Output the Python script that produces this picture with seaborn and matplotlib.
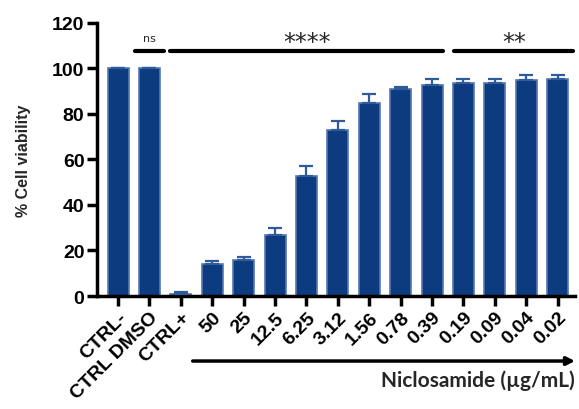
import matplotlib
matplotlib.use("Agg")
import matplotlib.pyplot as plt
import seaborn as sns
import pandas as pd

# values
labels = ["CTRL-", "CTRL DMSO", "CTRL+", "50", "25", "12.5", "6.25", "3.12",
          "1.56", "0.78", "0.39", "0.19", "0.09", "0.04", "0.02"]
viability = [100, 100, 1.0, 14.0, 15.8, 26.8, 52.8, 73.0, 84.8, 91.0, 92.8,
             93.5, 93.5, 95.0, 95.4]
err = [0, 0, 0.8, 1.5, 1.5, 3.2, 4.2, 4.0, 4.0, 1.0, 2.6, 1.9, 1.9, 2.3, 1.7]

df = pd.DataFrame({"label": labels, "viability": viability})

sns.set_style("ticks")
plt.rcParams["font.family"] = ["Liberation Sans", "DejaVu Sans"]

fig = plt.figure(figsize=(5.79, 4.10), dpi=100)
ax = fig.add_axes([0.1675, 0.2756, 0.8255, 0.666])

sns.barplot(data=df, x="label", y="viability", color="#0c3c7f",
            edgecolor="#5577b0", linewidth=1.2, width=0.67, saturation=1,
            errorbar=None, ax=ax)
pos = range(len(labels))
ax.errorbar(pos, viability, yerr=[[0] * len(err), err], fmt="none",
            ecolor="#2f5b9b", elinewidth=1.6, capsize=5, capthick=1.6, zorder=3)

ax.set_ylim(0, 120)
ax.set_xlim(-0.67, 14.55)
ax.set_yticks([0, 20, 40, 60, 80, 100, 120])
ax.set_xlabel("")
ax.set_ylabel("% Cell viability", fontsize=11.5, fontweight="bold", labelpad=15)
ax.tick_params(axis="both", width=2.5, length=7, labelsize=14, color="black",
               labelcolor="black", pad=2)
for t in ax.get_yticklabels():
    t.set_fontweight("bold")
ax.set_xticks(list(pos))
ax.set_xticklabels(labels, rotation=45, ha="right", rotation_mode="anchor",
                   fontsize=14, fontweight="bold")
sns.despine(ax=ax)
for s in ["left", "bottom"]:
    ax.spines[s].set_linewidth(2.5)
    ax.spines[s].set_color("black")

# significance brackets
sig = [(0.54, 1.46, "ns", 8, 111), (1.66, 10.35, "****", 17, 106.5),
       (10.7, 14.5, "**", 17, 106.5)]
for x0, x1, txt, fs, ty in sig:
    ax.plot([x0, x1], [107.7, 107.7], color="black", lw=3,
            solid_capstyle="round", clip_on=False)
    ax.text((x0 + x1) / 2, ty, txt, ha="center", va="bottom", fontsize=fs,
            family="DejaVu Sans")

# concentration arrow
fig.add_artist(matplotlib.patches.FancyArrowPatch(
    (0.328, 0.117), (0.998, 0.117), transform=fig.transFigure,
    arrowstyle="-|>", mutation_scale=12, lw=2.5, color="black"))
fig.text(0.993, 0.072, "Niclosamide (µg/mL)", ha="right", va="center",
         fontsize=15, fontweight="bold", family=["Lato", "DejaVu Sans"])

fig.savefig("out.png", dpi=100)
